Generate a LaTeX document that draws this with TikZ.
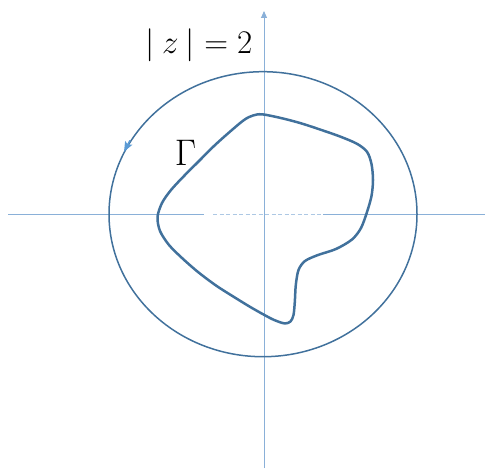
\documentclass[tikz,border=0pt]{standalone}
\usepackage{fix-cm}
\usetikzlibrary{arrows.meta}
\definecolor{curvecol}{HTML}{41719C}
\definecolor{axiscol}{HTML}{8AB0D8}
\definecolor{arrcol}{HTML}{5B9BD5}
\begin{document}
\begin{tikzpicture}[x=1pt,y=-1pt,
  axisline/.style={draw=axiscol,line width=0.9pt},
  circline/.style={draw=curvecol,line width=1.5pt},
  gammaline/.style={draw=curvecol,line width=2.5pt,line join=round},
  lbl/.style={inner sep=0pt,anchor=base}]
\useasboundingbox (0,0) rectangle (486,468);
% axes
\coordinate (xl) at (8,214);
\coordinate (xa) at (204,214);
\coordinate (xb) at (213,214);
\coordinate (xc) at (323,214);
\coordinate (xr) at (485,214);
\coordinate (yb) at (264,468);
\coordinate (yt) at (264,11);
\draw[axisline] (xl) -- (xa);
\draw[axisline,dash pattern=on 4pt off 2.5pt,draw opacity=0.7] (xb) -- (xc);
\draw[axisline] (xc) -- (xr);
\draw[axisline,-{Triangle[length=7pt,width=6pt]}] (yb) -- (yt);
% circle |z|=2
\coordinate (o) at (263,214.2);
\draw[circline] (o) ellipse [x radius=154, y radius=142.5];
\coordinate (as) at (130,140.5);
\coordinate (ae) at (124,151.7);
\draw[draw=arrcol,line width=1.6pt,-{Stealth[length=10pt,width=8pt,inset=2pt]}] (as) -- (ae);
% contour Gamma
\draw[gammaline] plot[smooth cycle,tension=0.5] coordinates {
 (262,114.3) (280,117.8) (300,123) (320,129.5) (340,136.5) (357,143.8) (367,151.8)
 (371.5,164) (373,180) (371.5,196) (367,212) (361,228) (352,239.5) (336,249)
 (318,255) (305,261) (298.5,270) (295.8,285) (294.8,302) (293.5,315) (290.5,321.5)
 (285,323.5) (278,321.5) (270,318) (252,308) (234,297) (216,285.5) (198,272)
 (182,258) (169,245) (160,231) (157.5,217) (162,203) (171,190) (184,176) (199,161)
 (214,146) (229,132.5) (244,120) (253,115.5)};
% labels
\node[lbl,font=\fontsize{33}{36}\selectfont] (lz) at (199,53.5) {$|\mkern4mu z\mkern4mu| = 2$};
\node[lbl,font=\fontsize{37}{40}\selectfont] (lg) at (185.5,165) {$\Gamma$};
\end{tikzpicture}
\end{document}
